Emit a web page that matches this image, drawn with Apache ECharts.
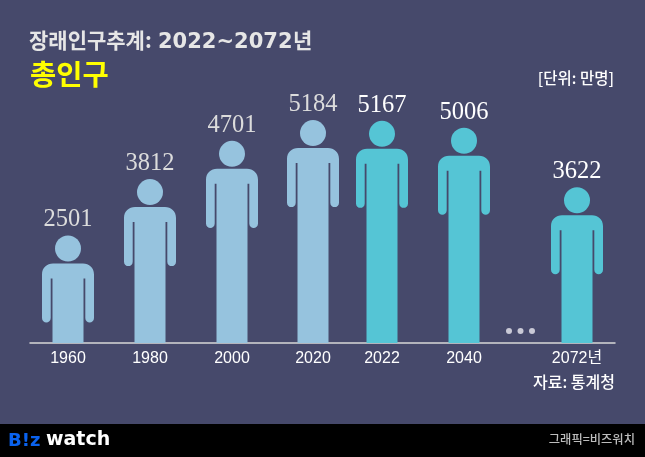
<!DOCTYPE html>
<html><head><meta charset="utf-8">
<style>html,body{margin:0;padding:0;background:#46496b}#c{width:645px;height:457px}</style>
<script src="https://cdn.jsdelivr.net/npm/echarts@6/dist/echarts.min.js"></script>
</head><body><div id="c"></div>
<script>
const yearLabels = ['1960','1980','2000','2020','2022','2040','2072년'];
const population = [2501,3812,4701,5184,5167,5006,3622];
const isProjection = [0,0,0,0,1,1,1];
const xSlots = [68,150,232,313,382,464,577];

const BG='#46496b', LIGHT='#96c3de', TEAL='#55c5d5';
const chart = echarts.init(document.getElementById('c'));

function person(params, api){
  const cx = api.coord([api.value(0),0])[0];
  const base = api.coord([0,0])[1];
  const v = api.value(1);
  const top = api.coord([0,v])[1];
  const proj = api.value(2);
  const color = proj ? TEAL : LIGHT;
  const r = 13, bt = top+28, ht=15.5, sl=17.3, o=26, armEnd=bt+59, rr=4.4;
  const p = [
    `M${cx-ht} ${base}`,`L${cx-ht} ${bt+15}`,`L${cx-sl} ${bt+15}`,
    `L${cx-sl} ${armEnd-rr}`,`C${cx-sl} ${armEnd+1.5} ${cx-o} ${armEnd+1.5} ${cx-o} ${armEnd-rr}`,
    `L${cx-o} ${bt+11}`,`C${cx-o} ${bt+4} ${cx-o+5} ${bt} ${cx-o+11} ${bt}`,
    `L${cx+o-11} ${bt}`,`C${cx+o-5} ${bt} ${cx+o} ${bt+4} ${cx+o} ${bt+11}`,
    `L${cx+o} ${armEnd-rr}`,`C${cx+o} ${armEnd+1.5} ${cx+sl} ${armEnd+1.5} ${cx+sl} ${armEnd-rr}`,
    `L${cx+sl} ${bt+15}`,`L${cx+ht} ${bt+15}`,`L${cx+ht} ${base}`,'Z'
  ].join(' ');
  return {type:'group',children:[
    {type:'circle',shape:{cx:cx,cy:top+r,r:r},style:{fill:color}},
    {type:'path',shape:{pathData:p},style:{fill:color}},
    {type:'text',x:cx,y:top-3,style:{text:String(v),textAlign:'center',textVerticalAlign:'bottom',
      font:'24.5px "Liberation Serif"',fill:proj?'#ffffff':'#dcdcdc'}}
  ]};
}
const txt=(o)=>({type:'text',z:10,...o});
chart.setOption({
  animation:false,
  backgroundColor:BG,
  grid:{left:30,width:585,top:42,height:301,containLabel:false},
  xAxis:{type:'value',min:30,max:615,splitLine:{show:false},
    axisLine:{onZero:false,show:true,lineStyle:{color:'#d8d8d8',width:1.5}},
    axisTick:{show:false},
    axisLabel:{customValues:xSlots,margin:8,color:'#ffffff',fontSize:16,fontFamily:'"Liberation Sans","Noto Sans CJK KR"',
      formatter:(val)=>yearLabels[xSlots.indexOf(val)]}},
  yAxis:{type:'value',min:0,max:7000,show:false},
  series:[{type:'custom',renderItem:person,clip:false,
    data:xSlots.map((x,i)=>[x,population[i],isProjection[i]])}],
  graphic:[
    txt({left:29,top:30,style:{text:'장래인구추계:',font:'bold 21px "Noto Sans CJK KR"',fill:'#e6e6e6'}}),
    txt({left:158,top:32,style:{text:'2022~2072',font:'bold 21px "DejaVu Sans"',fill:'#e6e6e6'}}),
    txt({left:293,top:30,style:{text:'년',font:'bold 21px "Noto Sans CJK KR"',fill:'#e6e6e6'}}),
    txt({left:30,top:60,style:{text:'총인구',font:'bold 28.5px "Noto Sans CJK KR"',fill:'#ffff00'}}),
    txt({right:31,top:70,style:{text:'[단위: 만명]',font:'500 15.5px "Noto Sans CJK KR"',fill:'#ffffff'}}),
    txt({right:30,top:374,style:{text:'자료: 통계청',font:'500 16px "Noto Sans CJK KR"',fill:'#ffffff'}}),
    {type:'circle',shape:{cx:509,cy:331,r:3},style:{fill:'#c9c9d6'}},
    {type:'circle',shape:{cx:520.5,cy:331,r:3},style:{fill:'#c9c9d6'}},
    {type:'circle',shape:{cx:532,cy:331,r:3},style:{fill:'#c9c9d6'}},
    {type:'rect',z:5,shape:{x:0,y:424,width:645,height:33},style:{fill:'#000000'}},
    txt({left:8,top:432,style:{text:'B!z',font:'900 18px "DejaVu Sans"',fill:'#0a62ee'}}),
    txt({left:46,top:431,style:{text:'watch',font:'900 19px "DejaVu Sans"',fill:'#ffffff'}}),
    txt({right:10,top:433,style:{text:'그래픽=비즈워치',font:'500 12.3px "Noto Sans CJK KR"',fill:'#bdbdbd'}})
  ]
});
</script></body></html>
